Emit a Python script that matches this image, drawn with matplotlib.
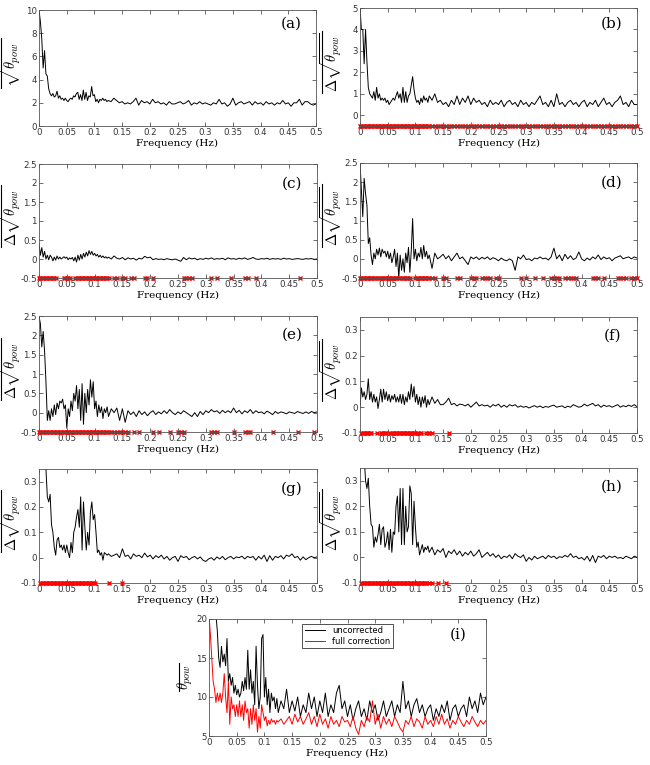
import numpy as np
import matplotlib
matplotlib.use("Agg")
import matplotlib.pyplot as plt
from matplotlib.lines import Line2D

plt.rcParams["mathtext.fontset"] = "cm"
plt.rcParams["font.family"] = "DejaVu Sans"

# frequency bins: fine below 0.125 Hz, coarser above
f_lo = np.arange(50) * 0.0025
f_hi = 0.125 + np.arange(76) * 0.005
freq = np.concatenate([f_lo, f_hi])

a_vals = [10.0, 9.0, 7.5, 5.0, 6.5, 4.5, 4.3, 3.2, 2.8, 2.6,
          2.8, 2.5, 2.6, 3.0, 2.4, 2.6, 2.3, 2.4, 2.2, 2.4,
          2.2, 2.1, 2.3, 2.4, 2.3, 2.6, 2.5, 2.8, 2.9, 2.3,
          2.7, 2.2, 3.1, 2.3, 2.9, 2.2, 2.6, 2.5, 3.4, 2.6,
          2.7, 2.1, 2.3, 2.0, 2.3, 2.2, 2.4, 2.2, 2.3, 2.1,
          2.2, 2.1, 2.4, 2.2, 2.0, 2.1, 1.9, 2.0, 1.9, 2.1,
          2.4, 1.8, 2.2, 2.0, 2.1, 1.9, 2.3, 2.0, 2.1, 1.9,
          2.0, 1.8, 2.1, 1.9, 1.9, 2.0, 2.1, 1.9, 2.0, 2.2,
          1.8, 2.0, 1.9, 2.1, 1.9, 2.0, 1.9, 1.8, 2.0, 1.9,
          2.3, 1.9, 2.0, 1.7, 1.9, 2.4, 1.8, 2.0, 2.1, 1.9,
          2.0, 2.1, 1.8, 2.1, 1.9, 2.0, 1.8, 2.1, 1.9, 2.0,
          1.8, 2.0, 1.9, 2.2, 1.9, 2.0, 1.7, 2.0, 2.0, 2.3,
          1.8, 2.1, 2.1, 1.9, 1.8, 1.9]

b_vals = [5.0, 4.0, 4.0, 2.4, 4.0, 2.5, 1.3, 1.0, 0.9, 0.8,
          1.1, 0.7, 1.3, 0.8, 1.0, 0.7, 0.8, 0.7, 0.8, 0.6,
          0.7, 0.5, 0.6, 0.7, 0.8, 0.7, 0.9, 1.1, 0.8, 1.0,
          0.6, 1.3, 0.6, 1.1, 0.6, 0.9, 1.0, 1.4, 1.8, 1.2,
          0.8, 0.6, 0.7, 0.5, 0.8, 0.6, 0.9, 0.7, 0.8, 0.6,
          0.9, 0.7, 1.0, 0.6, 0.7, 0.5, 0.6, 0.4, 0.7, 0.5,
          0.9, 0.5, 0.8, 0.6, 0.9, 0.5, 0.8, 0.6, 0.7, 0.5,
          0.6, 0.4, 0.7, 0.5, 0.6, 0.5, 0.7, 0.4, 0.6, 0.7,
          0.5, 0.6, 0.4, 0.7, 0.5, 0.6, 0.4, 0.6, 0.5, 0.7,
          0.9, 0.5, 0.6, 0.4, 0.7, 0.4, 1.0, 0.5, 0.6, 0.4,
          0.6, 0.7, 0.5, 0.6, 0.4, 0.6, 0.7, 0.4, 0.6, 0.5,
          0.7, 0.4, 0.6, 0.8, 0.5, 0.6, 0.4, 0.6, 0.7, 0.9,
          0.5, 0.6, 0.4, 0.7, 0.5, 0.5]

c_vals = [0.4, 0.1, 0.3, 0.05, 0.2, 0.0, 0.1, -0.02, 0.1, 0.05,
          -0.05, 0.05, -0.03, 0.08, 0.0, 0.05, 0.0, 0.03, 0.06, 0.02,
          0.05, -0.02, 0.03, 0.0, 0.04, -0.05, 0.05, -0.08, 0.1, -0.03,
          0.12, 0.0, 0.15, 0.05, 0.18, 0.08, 0.22, 0.12, 0.2, 0.1,
          0.15, 0.08, 0.12, 0.05, 0.1, 0.04, 0.08, 0.03, 0.06, 0.02,
          0.05, 0.0, 0.08, 0.02, 0.0, 0.04, -0.02, 0.03, 0.0, 0.02,
          -0.03, 0.02, 0.0, 0.07, 0.03, 0.05, -0.02, 0.01, -0.01, 0.0,
          -0.02, 0.01, -0.01, -0.02, 0.0, -0.03, -0.06, 0.04, -0.02, 0.03,
          0.0, 0.02, -0.02, 0.01, -0.01, 0.02, 0.0, 0.03, -0.01, 0.01,
          0.0, 0.02, -0.02, 0.03, 0.0, 0.01, -0.01, 0.02, 0.0, 0.03,
          -0.01, 0.01, 0.04, 0.0, -0.01, 0.01, 0.0, 0.02, -0.01, 0.01,
          0.0, 0.01, -0.01, 0.02, 0.0, 0.01, -0.01, 0.0, 0.01, 0.0,
          -0.01, 0.01, 0.0, 0.01, -0.01, 0.0]

d_vals = [2.5, 1.8, 1.1, 2.1, 1.7, 1.4, 0.4, 0.55, 0.1, -0.15,
          0.15, 0.0, 0.25, 0.1, 0.28, 0.05, 0.25, 0.15, 0.2, 0.05,
          0.2, 0.0, 0.15, -0.1, 0.05, 0.25, -0.2, 0.15, -0.5, 0.1,
          -0.3, 0.0, -0.35, 0.15, -0.1, 0.3, -0.35, 0.2, 1.05, 0.0,
          0.25, -0.05, 0.15, 0.05, 0.3, 0.0, 0.35, 0.05, 0.2, 0.0,
          0.1, -0.25, 0.15, 0.0, 0.05, 0.12, 0.0, 0.08, -0.05, 0.05,
          0.15, 0.0, 0.05, -0.05, -0.15, 0.05, 0.0, 0.05, -0.02, 0.04,
          0.0, 0.05, -0.02, 0.03, 0.0, -0.05, 0.02, -0.03, -0.05, 0.0,
          -0.05, -0.3, 0.05, 0.0, 0.1, -0.02, 0.0, -0.05, 0.02, 0.0,
          0.05, 0.0, 0.02, -0.03, 0.05, 0.28, 0.0, 0.1, -0.05, 0.12,
          0.0, 0.08, -0.02, 0.02, 0.18, 0.0, -0.05, 0.02, -0.03, 0.05,
          0.0, 0.1, -0.02, 0.05, 0.0, 0.03, -0.05, 0.02, 0.05, 0.08,
          0.0, 0.03, 0.05, 0.0, 0.05, 0.02]

e_vals = [2.5, 2.3, 1.7, 2.1, 1.6, 0.8, -0.2, 0.05, -0.2, 0.1,
          -0.1, 0.2, -0.05, 0.25, 0.1, 0.3, 0.25, 0.35, 0.1, 0.2,
          -0.4, 0.1, -0.1, 0.3, 0.05, 0.5, 0.3, 0.7, 0.1, 0.6,
          -0.2, 0.75, -0.3, 0.5, 0.0, 0.6, 0.2, 0.85, 0.4, 0.8,
          0.1, 0.3, -0.1, 0.2, 0.0, 0.15, -0.15, 0.1, 0.0, 0.15,
          -0.1, 0.1, 0.0, 0.12, -0.2, 0.1, -0.25, 0.05, -0.05, 0.02,
          -0.1, 0.05, -0.05, 0.02, -0.08, 0.0, 0.05, -0.05, 0.02, -0.03,
          0.05, -0.02, 0.08, 0.0, -0.05, 0.02, -0.03, 0.05, 0.0, -0.05,
          -0.1, 0.0, -0.1, 0.03, -0.05, 0.05, 0.0, 0.08, 0.02, 0.05,
          -0.02, 0.06, 0.0, 0.05, 0.0, 0.12, 0.0, 0.06, -0.03, 0.05,
          0.0, 0.08, -0.02, 0.05, 0.0, 0.02, -0.03, 0.04, 0.0, -0.05,
          0.03, -0.02, 0.02, 0.0, -0.03, 0.02, 0.0, -0.02, 0.03, 0.0,
          -0.02, 0.02, -0.02, 0.03, 0.0, 0.02]

f_vals = [0.0, 0.075, 0.04, 0.06, 0.03, 0.05, 0.11, 0.03, 0.06, 0.02,
          0.05, 0.02, 0.04, -0.005, 0.03, 0.07, 0.02, 0.07, 0.03, 0.06,
          0.025, 0.05, 0.02, 0.045, 0.03, 0.05, 0.02, 0.04, 0.02, 0.05,
          0.015, 0.05, 0.01, 0.04, 0.02, 0.06, 0.03, 0.09, 0.04, 0.08,
          0.02, 0.05, 0.01, 0.04, 0.0, 0.04, 0.015, 0.045, 0.0, 0.03,
          0.01, 0.04, 0.015, 0.03, 0.01, 0.01, 0.02, 0.035, 0.01, 0.015,
          0.005, 0.012, 0.01, 0.005, 0.012, 0.0, 0.01, 0.02, 0.005, 0.01,
          0.005, 0.008, 0.0, 0.01, 0.005, 0.012, 0.0, 0.008, 0.0, 0.01,
          0.005, 0.01, 0.0, 0.005, 0.0, 0.003, -0.003, 0.002, 0.006, 0.0,
          0.005, -0.002, 0.003, 0.0, 0.005, 0.008, 0.0, 0.003, 0.005, -0.002,
          0.004, 0.0, 0.01, 0.005, 0.0, 0.003, 0.012, 0.005, 0.01, 0.015,
          0.005, 0.01, 0.0, 0.008, 0.003, 0.006, 0.0, 0.005, 0.01, 0.0,
          0.006, 0.002, 0.008, 0.003, 0.01, 0.002]

g_vals = [0.6, 0.55, 0.5, 0.45, 0.4, 0.35, 0.24, 0.22, 0.25, 0.13,
          0.1, 0.04, 0.01, 0.07, 0.08, 0.04, 0.05, 0.03, 0.05, 0.02,
          0.05, 0.02, 0.0, 0.06, 0.02, 0.1, 0.12, 0.16, 0.19, 0.12,
          0.24, 0.03, 0.22, 0.12, 0.03, 0.1, 0.05, 0.18, 0.22, 0.15,
          0.17, 0.1, 0.02, 0.03, 0.01, 0.02, -0.01, 0.02, 0.015, 0.01,
          0.015, 0.005, 0.01, 0.015, 0.0, 0.035, 0.005, 0.01, -0.005, 0.015,
          0.005, 0.01, 0.0, 0.018, 0.003, 0.01, -0.005, 0.008, 0.0, 0.01,
          -0.005, 0.005, -0.01, 0.0, 0.005, -0.015, 0.008, 0.0, 0.005, -0.008,
          0.0, 0.005, -0.005, 0.003, -0.01, -0.015, -0.005, 0.0, -0.01, 0.003,
          -0.005, 0.005, -0.008, 0.0, 0.005, -0.005, 0.003, 0.0, 0.006, -0.005,
          0.005, 0.0, 0.005, -0.01, 0.005, -0.005, 0.01, -0.015, 0.008, -0.01,
          0.005, 0.0, 0.008, -0.005, 0.01, 0.005, 0.015, 0.0, 0.005, -0.01,
          0.003, -0.008, 0.0, 0.005, 0.0, 0.003]

h_vals = [0.6, 0.55, 0.48, 0.4, 0.3, 0.27, 0.31, 0.2, 0.13, 0.12,
          0.04, 0.08, 0.06, 0.09, 0.13, 0.05, 0.11, 0.12, 0.04, 0.06,
          0.1, 0.03, 0.11, 0.02, 0.1, 0.09, 0.2, 0.24, 0.1, 0.27,
          0.05, 0.27, 0.05, 0.2, 0.1, 0.12, 0.28, 0.25, 0.05, 0.22,
          0.12, 0.04, 0.06, 0.01, 0.03, 0.05, 0.02, 0.04, 0.03, 0.045,
          0.02, 0.04, 0.01, 0.03, 0.02, 0.035, 0.0, 0.025, 0.015, 0.03,
          0.01, 0.025, 0.005, 0.02, 0.01, 0.025, 0.005, 0.015, 0.03, 0.0,
          0.01, 0.02, 0.005, 0.015, 0.0, 0.01, -0.005, 0.005, 0.0, 0.01,
          -0.005, 0.015, 0.005, 0.0, 0.01, -0.015, 0.0, -0.01, 0.005, -0.005,
          0.0, 0.005, -0.005, 0.008, 0.0, 0.005, -0.005, 0.003, 0.0, 0.008,
          0.002, 0.015, 0.0, 0.005, -0.005, 0.0, -0.01, 0.005, -0.015, 0.008,
          -0.02, 0.005, 0.0, 0.008, -0.005, 0.005, 0.0, 0.005, -0.003, 0.0,
          -0.005, 0.005, 0.0, -0.005, 0.005, 0.0]

i_uncorr = [24, 23, 22, 21.5, 21, 20.5, 18.5, 15, 13.8, 16.5,
            14.5, 15.5, 14, 17.5, 12, 13, 11.5, 12.5, 10.5, 11.5,
            10.3, 11, 10, 10.5, 12, 10.8, 12.5, 11, 16, 11,
            13.5, 10.5, 12, 9, 16.5, 11.5, 8.5, 10, 17.5, 18,
            10, 12.5, 9, 11, 8, 10.5, 9.5, 10, 8.5, 9.8,
            8, 9.5, 8.5, 11, 8, 9.5, 8.2, 10, 7.5, 9,
            8, 10.5, 8.5, 10, 7.5, 9.5, 8, 10.5, 7.5, 9,
            8, 10.5, 11.5, 8.5, 9.5, 7.5, 9, 7, 8.5, 9.5,
            7.5, 8.5, 7, 9.5, 8, 9, 7, 8, 9.5, 7.5,
            8.5, 9.5, 7.5, 9, 8, 12, 8.5, 9.5, 7.5, 9,
            9.8, 8, 9, 7.5, 8.5, 9, 7, 8.5, 7.5, 9,
            8, 9.5, 7, 8.5, 9, 7.5, 8.5, 9, 7.5, 10,
            8.5, 9.5, 8, 10.5, 9, 10]

i_full = [20.5, 18, 15, 12, 11, 9.3, 10.5, 9.5, 10.5, 9.3,
          10.5, 13, 10, 8, 12, 6.5, 10, 8.5, 9, 7.5,
          9, 7.5, 9.5, 7.5, 9, 7, 9.5, 8, 8.5, 6,
          8.5, 6.5, 9, 7, 8.5, 5.5, 7.5, 6, 9, 8,
          7, 7.5, 6.3, 7, 6.5, 7.2, 6.8, 7, 6.5, 7,
          6.8, 7.2, 6.5, 7, 7.5, 6.5, 7.8, 6.8, 7.5, 6.5,
          7.2, 8, 6.5, 7.5, 6.2, 7.8, 6.5, 7.2, 6, 7.5,
          6.5, 7, 6.2, 7.5, 6.8, 7, 6.2, 7.5, 6, 5.2,
          7, 6.2, 7.5, 6.8, 9.5, 6.5, 7.8, 6, 7.5, 6.5,
          7.2, 6.2, 7.5, 6.8, 6, 5.5, 7, 6.5, 7.5, 6.2,
          7.2, 6.8, 6, 7.5, 6.5, 7, 6.2, 7.5, 6.5, 7.8,
          6.5, 7.2, 6, 7, 6.5, 7.5, 6.8, 6.2, 7, 6.5,
          7.5, 6.8, 6.2, 7, 6.5, 7]

# frequency bands flagged with red crosses
b_bands = [(0.0, 0.5)]
c_bands = [(0.0, 0.03), (0.045, 0.055), (0.065, 0.125), (0.135, 0.14), (0.15, 0.155),
           (0.165, 0.17), (0.19, 0.195), (0.205, 0.205), (0.26, 0.275), (0.31, 0.31),
           (0.32, 0.32), (0.345, 0.345), (0.37, 0.375), (0.39, 0.39), (0.47, 0.47)]
d_bands = [(0.0, 0.03), (0.035, 0.07), (0.075, 0.09), (0.1, 0.135), (0.15, 0.155),
           (0.175, 0.18), (0.2, 0.21), (0.22, 0.235), (0.245, 0.25), (0.29, 0.29),
           (0.3, 0.3), (0.315, 0.315), (0.33, 0.33), (0.345, 0.36), (0.37, 0.39),
           (0.42, 0.43), (0.44, 0.44), (0.465, 0.48), (0.49, 0.5)]
e_bands = [(0.0, 0.16), (0.17, 0.17), (0.18, 0.18), (0.205, 0.205), (0.215, 0.215),
           (0.235, 0.235), (0.25, 0.26), (0.31, 0.32), (0.35, 0.35), (0.37, 0.38),
           (0.42, 0.42), (0.465, 0.465), (0.495, 0.495)]
f_bands = [(0.0025, 0.02), (0.03, 0.03), (0.0375, 0.0475), (0.055, 0.1),
           (0.105, 0.11), (0.12, 0.13), (0.16, 0.16)]
g_bands = [(0.0025, 0.1), (0.125, 0.125), (0.15, 0.15)]
h_bands = [(0.0025, 0.12), (0.125, 0.13), (0.14, 0.14), (0.155, 0.155)]

xticks = [0, 0.05, 0.1, 0.15, 0.2, 0.25, 0.3, 0.35, 0.4, 0.45, 0.5]
xticklabels = ["0", "0.05", "0.1", "0.15", "0.2", "0.25", "0.3", "0.35", "0.4", "0.45", "0.5"]

# y labels are drawn without the bar; the bar is added afterwards
lab_a = r"$\sqrt{\theta_{pow}}$"
lab_d = r"$\Delta\sqrt{\theta_{pow}}$"
lab_i = r"$\theta_{pow}$"
big_ticks = [-0.5, 0, 0.5, 1, 1.5, 2, 2.5]
small_ticks = [-0.1, 0, 0.1, 0.2, 0.3]

W, H = 650, 765
panels = [
    ("(a)", [39 / W, 1 - 126 / H, 277 / W, 116 / H], a_vals, None, (0, 10), [0, 2, 4, 6, 8, 10], lab_a, 0.88),
    ("(b)", [360 / W, 1 - 126 / H, 277 / W, 118 / H], b_vals, b_bands, (-0.5, 5), [0, 1, 2, 3, 4, 5], lab_d, 0.87),
    ("(c)", [39 / W, 1 - 278 / H, 278 / W, 114 / H], c_vals, c_bands, (-0.5, 2.5), big_ticks, lab_d, 0.83),
    ("(d)", [360 / W, 1 - 278 / H, 277 / W, 115 / H], d_vals, d_bands, (-0.5, 2.5), big_ticks, lab_d, 0.83),
    ("(e)", [39 / W, 1 - 432 / H, 278 / W, 116 / H], e_vals, e_bands, (-0.5, 2.5), big_ticks, lab_d, 0.84),
    ("(f)", [360 / W, 1 - 433 / H, 277 / W, 116 / H], f_vals, f_bands, (-0.1, 0.35), small_ticks, lab_d, 0.84),
    ("(g)", [39 / W, 1 - 583 / H, 278 / W, 114 / H], g_vals, g_bands, (-0.1, 0.35), small_ticks, lab_d, 0.83),
    ("(h)", [360 / W, 1 - 583 / H, 277 / W, 115 / H], h_vals, h_bands, (-0.1, 0.35), small_ticks, lab_d, 0.84),
]


def style_axes(ax):
    ax.set_xlim(0, 0.5)
    ax.set_xticks(xticks)
    ax.set_xticklabels(xticklabels)
    ax.tick_params(direction="in", top=True, right=True, labelsize=6.2,
                   length=3, width=0.5, colors="#333333", pad=1.5)
    for sp in ax.spines.values():
        sp.set_linewidth(0.6)
        sp.set_color("#555555")
    ax.set_xlabel("Frequency (Hz)", family="DejaVu Serif", fontsize=7.5, labelpad=1)


fig = plt.figure(figsize=(6.5, 7.65), dpi=100)
all_axes = []

for tag, pos, vals, bands, ylim, yticks, ylab, ty in panels:
    ax = fig.add_axes(pos)
    ax.plot(freq, vals, color="black", lw=0.7)
    if bands is not None:
        sel = np.zeros(len(freq), dtype=bool)
        for lo, hi in bands:
            sel |= (freq >= lo - 1e-9) & (freq <= hi + 1e-9)
        ax.plot(freq[sel], np.full(sel.sum(), ylim[0]), "x", color="red",
                ms=3.5, mew=1.0, clip_on=False)
    ax.set_ylim(*ylim)
    ax.set_yticks(yticks)
    ax.set_yticklabels([f"{t:g}" for t in yticks])
    style_axes(ax)
    ax.set_ylabel(ylab, fontsize=10.5)
    ax.yaxis.set_label_coords(-0.056, 0.54)
    ax.text(0.91, ty, tag, transform=ax.transAxes, family="DejaVu Serif",
            fontsize=11, ha="center", va="center")
    all_axes.append(ax)

ax = fig.add_axes([209 / W, 1 - 736 / H, 277 / W, 117 / H])
ax.plot(freq, i_uncorr, color="black", lw=0.7, label="uncorrected")
ax.plot(freq, i_full, color="red", lw=0.7, label="full correction")
ax.set_ylim(5, 20)
ax.set_yticks([5, 10, 15, 20])
style_axes(ax)
ax.set_ylabel(lab_i, fontsize=10.5)
ax.yaxis.set_label_coords(-0.05, 0.5)
ax.text(0.9, 0.87, "(i)", transform=ax.transAxes, family="DejaVu Serif",
        fontsize=11, ha="center", va="center")
leg = ax.legend(loc="upper center", bbox_to_anchor=(0.5, 0.96), fontsize=6,
                frameon=True, fancybox=False, edgecolor="black", borderpad=0.3,
                handlelength=2.5, labelspacing=0.2, borderaxespad=0)
leg.get_frame().set_linewidth(0.6)
all_axes.append(ax)

# bar over each rotated y label (drawn on its left side)
fig.canvas.draw()
renderer = fig.canvas.get_renderer()
for ax in all_axes:
    bb = ax.yaxis.label.get_window_extent(renderer)
    x = (bb.x0 + 3.5) / W
    fig.add_artist(Line2D([x, x], [(bb.y0 - 1) / H, (bb.y1 + 2) / H],
                          transform=fig.transFigure, color="black", lw=0.8))

fig.savefig("out.png", dpi=100)
